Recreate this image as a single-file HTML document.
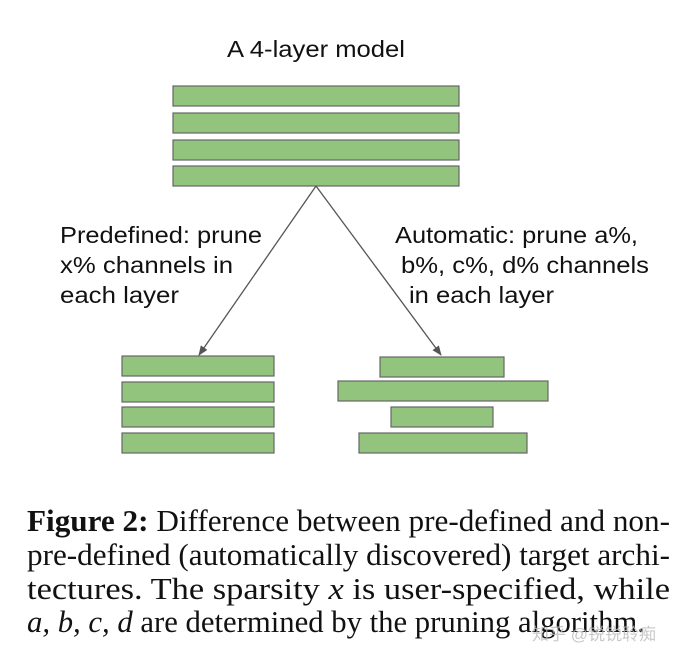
<!DOCTYPE html>
<html><head><meta charset="utf-8"><style>
html,body{margin:0;padding:0;background:#fff;}
svg{display:block;}
</style></head><body>
<svg width="694" height="662" viewBox="0 0 694 662" xmlns="http://www.w3.org/2000/svg">
<defs><marker id="ah" markerWidth="10" markerHeight="10" refX="9" refY="5" orient="auto" markerUnits="userSpaceOnUse"><path d="M0,1 L10,5 L0,9 Z" fill="#555"/></marker></defs>
<g font-family="Liberation Sans, sans-serif" font-size="23" fill="#111">
<text x="227" y="57" textLength="178" lengthAdjust="spacingAndGlyphs">A 4-layer model</text>
<text x="60" y="243" textLength="202" lengthAdjust="spacingAndGlyphs">Predefined: prune</text>
<text x="60" y="273" textLength="173" lengthAdjust="spacingAndGlyphs">x% channels in</text>
<text x="60" y="303" textLength="119" lengthAdjust="spacingAndGlyphs">each layer</text>
<text x="395" y="243" textLength="243" lengthAdjust="spacingAndGlyphs">Automatic: prune a%,</text>
<text x="401" y="273" textLength="248" lengthAdjust="spacingAndGlyphs">b%, c%, d% channels</text>
<text x="409" y="303" textLength="145" lengthAdjust="spacingAndGlyphs">in each layer</text>
</g>
<g fill="#93c47d" stroke="#666" stroke-width="1.2">
<rect x="173" y="86" width="286" height="20"/>
<rect x="173" y="113" width="286" height="20"/>
<rect x="173" y="140" width="286" height="20"/>
<rect x="173" y="166" width="286" height="20"/>
<rect x="122" y="356" width="152" height="20"/>
<rect x="122" y="382" width="152" height="20"/>
<rect x="122" y="407" width="152" height="20"/>
<rect x="122" y="433" width="152" height="20"/>
<rect x="380" y="357" width="124" height="20"/>
<rect x="338" y="381" width="210" height="20"/>
<rect x="391" y="407" width="102" height="20"/>
<rect x="359" y="433" width="168" height="20"/>
</g>
<g stroke="#555" stroke-width="1.3">
<line x1="316" y1="186" x2="199" y2="355" marker-end="url(#ah)"/>
<line x1="316" y1="186" x2="441" y2="355" marker-end="url(#ah)"/>
</g>
<g font-family="Liberation Serif, serif" font-size="31" fill="#111">
<text x="27" y="531" textLength="643" lengthAdjust="spacingAndGlyphs"><tspan font-weight="bold">Figure 2:</tspan> Difference between pre-defined and non-</text>
<text x="27" y="565" textLength="643" lengthAdjust="spacingAndGlyphs">pre-defined (automatically discovered) target archi-</text>
<text x="27" y="599" textLength="643" lengthAdjust="spacingAndGlyphs">tectures.  The sparsity <tspan font-style="italic">x</tspan> is user-specified, while</text>
<text x="27" y="632" textLength="618" lengthAdjust="spacingAndGlyphs"><tspan font-style="italic">a, b, c, d</tspan> are determined by the pruning algorithm.</text>
</g>
<text x="532" y="640" font-family="Liberation Sans, Noto Sans CJK SC, sans-serif" font-size="17" fill="#bbb" opacity="0.8">知乎 @锐锐聆痴</text>
</svg>
</body></html>
